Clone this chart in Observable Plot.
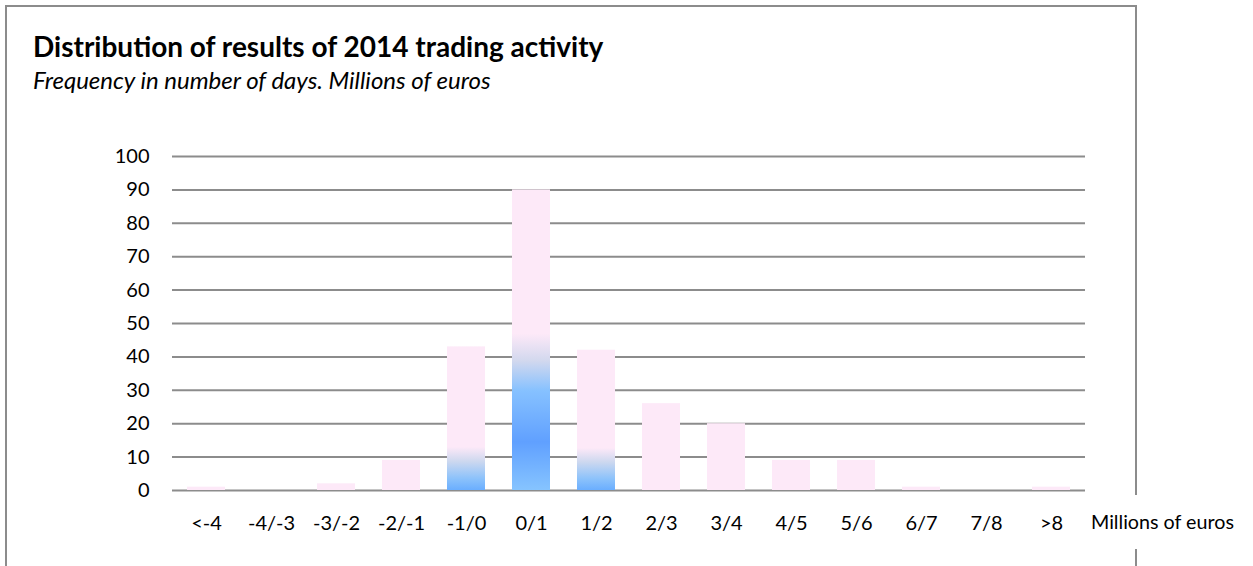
<!DOCTYPE html>
<html>
<head>
<meta charset="utf-8">
<script src="https://cdn.jsdelivr.net/npm/d3@7"></script>
<script src="https://cdn.jsdelivr.net/npm/@observablehq/plot@0.6"></script>
<style>
  html, body { margin: 0; padding: 0; width: 1253px; height: 566px; overflow: hidden; background: #fff; font-family: Lato, "Open Sans", sans-serif; }
  #frame { position: absolute; left: 5px; top: 5px; width: 1128px; height: 700px; border: 2px solid #8c8c8c; border-bottom: none; }
  #title { position: absolute; left: 33px; top: 32px; font-size: 28px; line-height: 1; font-weight: bold; color: #000; white-space: nowrap; }
  #subtitle { position: absolute; left: 33px; top: 68px; font-size: 24px; line-height: 1; font-style: italic; color: #000; white-space: nowrap; }
  #chart { position: absolute; left: 0; top: 110px; }
  #unit { position: absolute; left: 1091px; top: 495px; font-size: 19.7px; line-height: 1.2; color: #000; background: #fff; padding: 15px 0 15px 0; white-space: nowrap; }
</style>
</head>
<body>
<div id="frame"></div>
<div id="title">Distribution of results of 2014 trading activity</div>
<div id="subtitle">Frequency in number of days. Millions of euros</div>
<div id="chart"></div>
<div id="unit">Millions of euros</div>
<script>
const categories = ["<-4", "-4/-3", "-3/-2", "-2/-1", "-1/0", "0/1", "1/2", "2/3", "3/4", "4/5", "5/6", "6/7", "7/8", ">8"];
const days = [1, 0, 2, 9, 43, 90, 42, 26, 20, 9, 9, 1, 0, 1];
const yTicks = [0, 10, 20, 30, 40, 50, 60, 70, 80, 90, 100];

const data = categories.map((c, i) => ({cat: c, days: days[i]}));

// gradient fill applied to the central bars (style, not data)
const gradientFor = {"-1/0": "gradSide", "0/1": "gradCenter", "1/2": "gradSide"};

const pink = "#fde9f8";

const plot = Plot.plot({
  width: 1253,
  height: 456,
  marginTop: 46,
  marginBottom: 76,
  marginLeft: 172,
  marginRight: 168,
  style: {fontFamily: "Lato, 'Open Sans', sans-serif", fontSize: "20px", color: "#000", background: "transparent"},
  x: {domain: categories, paddingInner: 0.42, paddingOuter: 0.21, label: null, tickSize: 0, tickPadding: 25},
  y: {domain: [0, 100], ticks: yTicks, label: null, tickSize: 0, tickPadding: 23},
  marks: [
    Plot.ruleY(yTicks, {stroke: "#8c8c8c", strokeWidth: 2}),
    Plot.barY(data.filter(d => !gradientFor[d.cat]), {x: "cat", y: "days", fill: pink}),
    Plot.barY(data.filter(d => gradientFor[d.cat] === "gradSide"), {x: "cat", y: "days", fill: "url(#gradSide)"}),
    Plot.barY(data.filter(d => gradientFor[d.cat] === "gradCenter"), {x: "cat", y: "days", fill: "url(#gradCenter)"})
  ]
});

// gradient definitions
const svg = d3.select(plot);
const defs = svg.insert("defs", ":first-child");
const gradients = {
  gradCenter: [[0, pink], [0.48, pink], [0.57, "#d2d8ee"], [0.67, "#86c1ff"], [0.84, "#60a0ff"], [1, "#86c4ff"]],
  gradSide: [[0, pink], [0.70, pink], [0.80, "#cdd8ef"], [0.92, "#8cc2fb"], [1, "#6aaeff"]]
};
for (const [id, stops] of Object.entries(gradients)) {
  const g = defs.append("linearGradient").attr("id", id).attr("x1", 0).attr("y1", 0).attr("x2", 0).attr("y2", 1);
  for (const [o, c] of stops) g.append("stop").attr("offset", o).attr("stop-color", c);
}

document.getElementById("chart").appendChild(plot);
</script>
</body>
</html>
